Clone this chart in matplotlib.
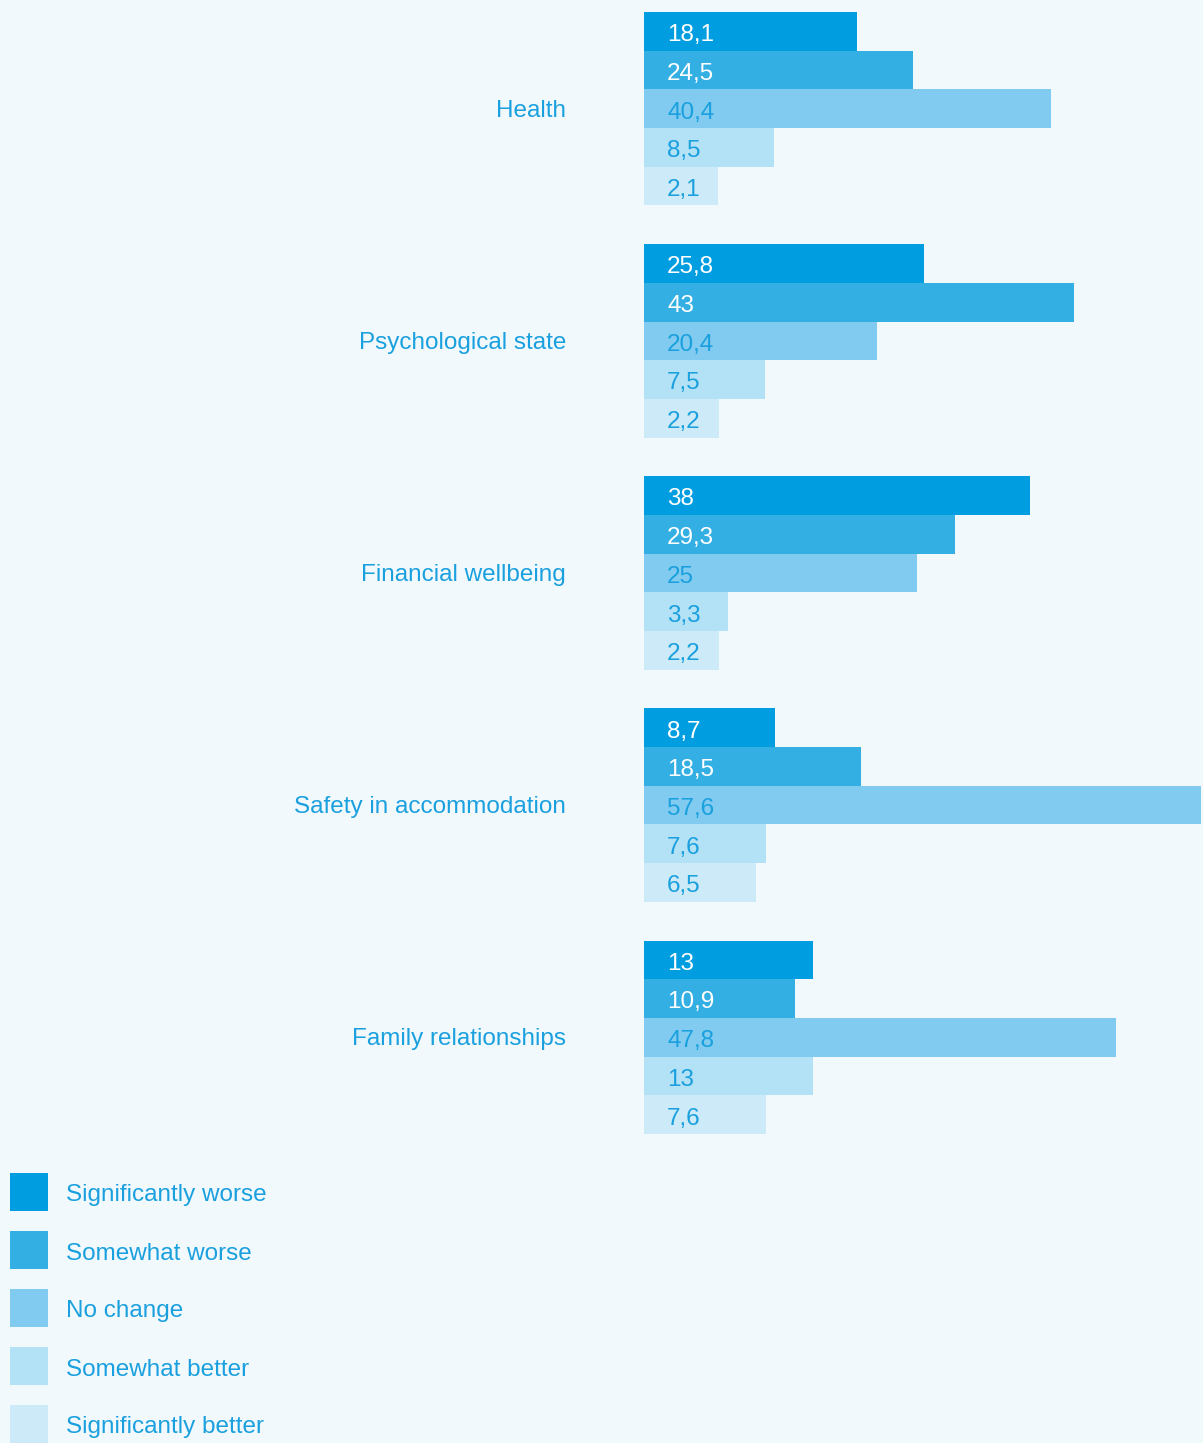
import matplotlib
matplotlib.use("Agg")
import matplotlib.pyplot as plt
from matplotlib.patches import Rectangle

categories = ["Health", "Psychological state", "Financial wellbeing",
              "Safety in accommodation", "Family relationships"]
series = ["Significantly worse", "Somewhat worse", "No change",
          "Somewhat better", "Significantly better"]
values = {
    "Significantly worse":  [18.1, 25.8, 38.0, 8.7, 13.0],
    "Somewhat worse":       [24.5, 43.0, 29.3, 18.5, 10.9],
    "No change":            [40.4, 20.4, 25.0, 57.6, 47.8],
    "Somewhat better":      [8.5, 7.5, 3.3, 7.6, 13.0],
    "Significantly better": [2.1, 2.2, 2.2, 6.5, 7.6],
}
labels = {
    "Significantly worse":  ["18,1", "25,8", "38", "8,7", "13"],
    "Somewhat worse":       ["24,5", "43", "29,3", "18,5", "10,9"],
    "No change":            ["40,4", "20,4", "25", "57,6", "47,8"],
    "Somewhat better":      ["8,5", "7,5", "3,3", "7,6", "13"],
    "Significantly better": ["2,1", "2,2", "2,2", "6,5", "7,6"],
}

colors = ["#009EE0", "#33AFE4", "#80CBEF", "#B3E1F6", "#CCEAF7"]
label_colors = ["white", "white", "#1AA0DE", "#1AA0DE", "#1AA0DE"]
text_blue = "#1AA0DE"
bg = "#F2F9FD"
font = ["Liberation Sans", "DejaVu Sans"]
fs = 17.5

W, H = 1203, 1443
fig = plt.figure(figsize=(W / 100, H / 100), dpi=100, facecolor=bg)

# main bar axes (pixel layout)
left_px, right_px, top_px, bot_px = 644, 1203, 12, 1134
ax = fig.add_axes([left_px / W, 1 - bot_px / H, (right_px - left_px) / W, (bot_px - top_px) / H])
ax.patch.set_alpha(0)
pitch = len(series) + 1
pad = 6.4          # label room at the start of each bar, as in the reference
xmax = 57.85
ax.set_xlim(-pad, xmax)
ax.set_ylim(len(categories) * pitch - 1 - 0.5, -0.5)
for spine in ax.spines.values():
    spine.set_visible(False)
ax.set_xticks([])
ax.set_yticks([])

xoff = -pad + 23 / (right_px - left_px) * (xmax + pad)
for j, s in enumerate(series):
    ys = [g * pitch + j for g in range(len(categories))]
    widths = [v + pad for v in values[s]]
    ax.barh(ys, widths, height=1.0, left=-pad, color=colors[j], linewidth=0)
    for y, lab in zip(ys, labels[s]):
        ax.text(xoff, y + 0.1, lab, color=label_colors[j], fontsize=fs,
                va="center", ha="left", family=font)

for g, c in enumerate(categories):
    ax.annotate(c, xy=(-pad, g * pitch + 2), xycoords="data",
                xytext=(-(left_px - 566) * 0.72, -1.5), textcoords="offset points",
                ha="right", va="center", color=text_blue, fontsize=fs, family=font,
                annotation_clip=False)

# legend
lax = fig.add_axes([0, 0, 1, 1])
lax.set_xlim(0, W)
lax.set_ylim(H, 0)
lax.axis("off")
lax.patch.set_alpha(0)
for j, s in enumerate(series):
    y0 = 1173 + j * 58
    lax.add_patch(Rectangle((10, y0), 38, 38, color=colors[j], linewidth=0))
    lax.text(66, y0 + 22.5, s, color=text_blue, fontsize=fs, va="center", ha="left", family=font)

fig.savefig("out.png", dpi=100, facecolor=bg)
